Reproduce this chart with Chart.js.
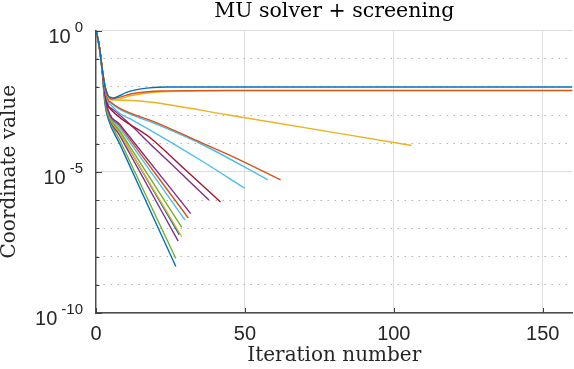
<!DOCTYPE html>
<html>
<head>
<meta charset="utf-8">
<script src="https://cdn.jsdelivr.net/npm/chart.js@4"></script>
<style>
  body { margin: 0; background: #fff; }
</style>
</head>
<body>
<canvas id="chart" width="574" height="369"></canvas>
<script>
// axis setup
const xTicks = [0, 50, 100, 150];
const yDecades = [0, -1, -2, -3, -4, -5, -6, -7, -8, -9, -10];
const yLabelled = [0, -5, -10];

// MATLAB default colour order
const colBlue = '#0072BD', colOrange = '#D95319', colYellow = '#EDB120',
      colPurple = '#7E2F8E', colGreen = '#77AC30', colCyan = '#4DBEEE', colRed = '#A2142F';

// coordinates that settle (iteration, value)
const flatBlue = [[0, 1], [1, 0.32], [2, 0.05], [3, 1.1e-2], [4, 5.0e-3], [5, 4.3e-3], [6, 4.1e-3], [8, 5.0e-3], [10, 6.3e-3], [12.5, 7.6e-3], [17, 9.1e-3], [24, 1.0e-2], [160, 1.0e-2]];
const flatOrange = [[0, 1], [1, 0.32], [2, 0.05], [3, 1.1e-2], [4, 5.2e-3], [5, 3.8e-3], [8, 4.4e-3], [12, 5.75e-3], [22, 7.2e-3], [45, 7.6e-3], [160, 7.6e-3]];
const flatYellow = [[0, 1], [1, 0.32], [2, 0.05], [3, 1.1e-2], [4, 5.0e-3], [5, 3.55e-3], [8, 3.8e-3], [12, 5.0e-3], [22, 6.8e-3], [45, 7.4e-3], [160, 7.4e-3]];

// slowly decaying coordinates
const slowYellow = [[0, 1], [1, 0.32], [2, 0.05], [3, 1.1e-2], [4, 4.5e-3], [5, 3.6e-3], [10, 3.4e-3], [18, 2.95e-3], [45, 1.0e-3], [106, 8.5e-5]];
const slowOrange = [[0, 1], [1, 0.32], [2, 0.05], [3, 1.0e-2], [4, 3.6e-3], [5, 2.9e-3], [8, 1.75e-3], [20, 5.6e-4], [35, 1.12e-4], [45, 3.8e-5], [62, 5.2e-6]];
const slowCyanA = [[0, 1], [1, 0.32], [2, 0.05], [3, 1.0e-2], [4, 3.4e-3], [5, 2.7e-3], [8, 1.6e-3], [20, 5.0e-4], [35, 1.0e-4], [57.7, 5.2e-6]];
const slowCyanB = [[0, 1], [1, 0.32], [2, 0.05], [3, 9.0e-3], [4, 3.0e-3], [5, 2.3e-3], [8, 1.15e-3], [12.4, 6.6e-4], [35, 2.6e-5], [50, 2.6e-6]];
const midRed = [[0, 1], [1, 0.32], [2, 0.05], [3, 8.0e-3], [4, 2.3e-3], [5, 1.6e-3], [18, 1.66e-4], [30, 1.17e-5], [41.8, 8.5e-7]];
const midPurple = [[0, 1], [1, 0.32], [2, 0.05], [3, 7.5e-3], [4, 2.2e-3], [5, 1.8e-3], [20.4, 5.75e-5], [30, 6.3e-6], [37.9, 1.0e-6]];

// fast decaying coordinates
const fastCurves = [
  [[0, 1], [1, 0.32], [2, 0.05], [3, 5.5e-3], [4, 1.6e-3], [8, 4.7e-4], [31.8, 3.3e-7]],
  [[0, 1], [1, 0.32], [2, 0.05], [3, 5.2e-3], [4, 1.5e-3], [8, 4.2e-4], [31.0, 2.3e-7]],
  [[0, 1], [1, 0.32], [2, 0.05], [3, 5.0e-3], [4, 1.4e-3], [8, 3.5e-4], [29.9, 1.95e-7]],
  [[0, 1], [1, 0.32], [2, 0.05], [3, 4.6e-3], [4, 1.3e-3], [8, 2.8e-4], [28.8, 1.07e-7]],
  [[0, 1], [1, 0.32], [2, 0.05], [3, 4.2e-3], [4, 1.2e-3], [8, 2.35e-4], [28.8, 5.0e-8]],
  [[0, 1], [1, 0.32], [2, 0.05], [3, 4.4e-3], [4, 1.26e-3], [8, 2.4e-4], [28.0, 5.8e-8]],
  [[0, 1], [1, 0.32], [2, 0.05], [3, 4.0e-3], [4, 1.1e-3], [8, 1.9e-4], [27.6, 3.5e-8]],
  [[0, 1], [1, 0.3], [2, 0.045], [3, 3.2e-3], [4, 1.0e-3], [8, 1.3e-4], [26.8, 8.5e-9]],
  [[0, 1], [1, 0.3], [2, 0.04], [3, 2.5e-3], [4, 7.9e-4], [8, 9.5e-5], [26.8, 4.4e-9]]
];
const fastColors = [colPurple, colOrange, colCyan, colGreen, colYellow, colBlue, colPurple, colGreen, colBlue];

function makeSet(pts, color) {
  return {
    data: pts.map(p => ({ x: p[0], y: p[1] })),
    borderColor: color,
    borderWidth: 1.4,
    pointRadius: 0,
    fill: false,
    cubicInterpolationMode: 'monotone'
  };
}

var datasets = [
  makeSet(flatBlue, colBlue),
  makeSet(flatOrange, colOrange),
  makeSet(flatYellow, colYellow),
  makeSet(slowYellow, colYellow),
  makeSet(slowOrange, colOrange),
  makeSet(slowCyanA, colCyan),
  makeSet(slowCyanB, colCyan),
  makeSet(midRed, colRed),
  makeSet(midPurple, colPurple)
];
fastCurves.forEach(function (c, i) {
  datasets.push(makeSet(c, fastColors[i]));
});

function isMajor(v) {
  return yLabelled.includes(Math.round(Math.log10(v)));
}

// inward ticks + superscript y labels
const axisDecor = {
  id: 'axisDecor',
  afterDraw(chart) {
    const ctx = chart.ctx;
    const a = chart.chartArea;
    const x = chart.scales.x, y = chart.scales.y;
    ctx.save();
    ctx.strokeStyle = '#404040';
    ctx.lineWidth = 1;
    yDecades.forEach(function (e) {
      const py = Math.round(y.getPixelForValue(Math.pow(10, e))) + 0.5;
      const len = yLabelled.includes(e) ? 6 : 3.5;
      ctx.beginPath();
      ctx.moveTo(a.left, py);
      ctx.lineTo(a.left + len, py);
      ctx.stroke();
    });
    xTicks.forEach(function (v) {
      const px = Math.round(x.getPixelForValue(v)) + 0.5;
      ctx.beginPath();
      ctx.moveTo(px, a.bottom);
      ctx.lineTo(px, a.bottom - 5);
      ctx.stroke();
    });
    ctx.fillStyle = '#262626';
    ctx.textAlign = 'right';
    ctx.textBaseline = 'alphabetic';
    yLabelled.forEach(function (e) {
      const py = y.getPixelForValue(Math.pow(10, e));
      const expText = String(e);
      ctx.font = '15px "Liberation Sans"';
      const right = a.left - 13;
      ctx.fillText(expText, right, py + 1);
      const expW = ctx.measureText(expText).width;
      ctx.font = '20px "Liberation Sans"';
      ctx.fillText('10', right - expW - 4, py + 12);
    });
    ctx.restore();
  }
};

new Chart(document.getElementById('chart'), {
  type: 'line',
  data: { datasets: datasets },
  plugins: [axisDecor],
  options: {
    responsive: false,
    animation: false,
    devicePixelRatio: 1,
    layout: { padding: { left: 0, right: 1.5, top: 0, bottom: 0 } },
    plugins: {
      legend: { display: false },
      tooltip: { enabled: false },
      title: {
        display: true,
        fullSize: false,
        text: 'MU solver + screening',
        color: '#000',
        font: { family: 'DejaVu Serif', size: 20.5, weight: 'normal', lineHeight: 1 },
        padding: { top: 1, bottom: 9 }
      }
    },
    scales: {
      x: {
        type: 'linear',
        min: 0,
        max: 160,
        afterBuildTicks: function (s) { s.ticks = xTicks.map(v => ({ value: v })); },
        afterFit: function (s) { s.height = 56; },
        grid: {
          color: c => (c.tick && c.tick.value === 0) ? 'rgba(0,0,0,0)' : '#dedede',
          lineWidth: 1,
          drawTicks: false
        },
        border: { color: '#4d4d4d', width: 1.5 },
        ticks: {
          color: '#262626',
          padding: 11.5,
          maxRotation: 0,
          font: { family: 'Liberation Sans', size: 20, lineHeight: 1 }
        },
        title: {
          display: true,
          text: 'Iteration number',
          color: '#262626',
          font: { family: 'DejaVu Serif', size: 20, lineHeight: 1 },
          padding: { top: 0, bottom: 3.5 }
        }
      },
      y: {
        type: 'logarithmic',
        min: 1e-10,
        max: 1,
        afterBuildTicks: function (s) { s.ticks = yDecades.map(e => ({ value: Math.pow(10, e) })); },
        afterFit: function (s) { s.width = 96; },
        grid: {
          color: c => (c.tick && !isMajor(c.tick.value)) ? '#b5b5b5' : '#dedede',
          lineWidth: 1,
          drawTicks: false
        },
        border: {
          color: '#4d4d4d',
          width: 1.5,
          dash: c => (c.tick && !isMajor(c.tick.value)) ? [1.5, 5.5] : []
        },
        ticks: { display: false },
        title: {
          display: true,
          text: 'Coordinate value',
          color: '#262626',
          font: { family: 'DejaVu Serif', size: 20, lineHeight: 1 },
          padding: { top: 0, bottom: 0 }
        }
      }
    }
  }
});
</script>
</body>
</html>
